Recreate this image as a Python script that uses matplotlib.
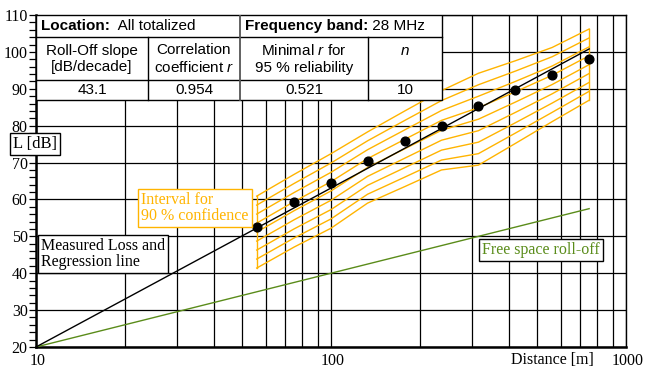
import matplotlib
matplotlib.use('Agg')
import matplotlib.pyplot as plt
import matplotlib.transforms as mtransforms
from matplotlib.patches import Rectangle
from matplotlib.ticker import LogLocator, MultipleLocator, NullFormatter

plt.rcParams['mathtext.fontset'] = 'custom'
plt.rcParams['mathtext.rm'] = 'Liberation Sans'
plt.rcParams['mathtext.it'] = 'Liberation Sans:italic'

# measured points (10 sites)
distance = [56, 75, 100, 133, 178, 237, 316, 422, 562, 750]
loss = [52.5, 59.4, 64.4, 70.5, 75.8, 80.0, 85.4, 89.8, 93.7, 98.0]

# 90 % confidence interval limits at the same distances
ci_low = [41.4, 47.1, 52.2, 59.0, 63.5, 68.0, 69.3, 75.2, 81.1, 86.9]
ci_high = [60.9, 66.8, 72.4, 78.3, 84.0, 89.5, 94.2, 97.6, 101.2, 106.2]
n_hatch = 9

# regression line (43.1 dB/decade) and free space roll-off (20 dB/decade)
reg_dist = [10, 750]
reg_loss = [20, 100.8]
free_dist = [10, 750]
free_loss = [20, 57.5]

x_ticks = [10, 100, 1000]
x_labels = ['10', '100', '1000']
y_ticks = list(range(20, 111, 10))

orange = '#FFB400'
green = '#5A8C1A'
serif = 'Liberation Serif'
sans = 'Liberation Sans'
tsize = 11

W, H = 645, 369
fig = plt.figure(figsize=(W / 100, H / 100), dpi=100)
ax = fig.add_axes([36 / W, 22 / H, 590 / W, 332 / H])
ax.set_xscale('log')
ax.set_xlim(10, 1000)
ax.set_ylim(20, 110)

ax.xaxis.set_major_locator(LogLocator(base=10))
ax.xaxis.set_minor_locator(LogLocator(base=10, subs=range(2, 10)))
ax.xaxis.set_minor_formatter(NullFormatter())
ax.set_xticks(x_ticks, x_labels)
ax.set_yticks(y_ticks)
ax.yaxis.set_minor_locator(MultipleLocator(2))
ax.grid(axis='x', which='both', color='black', lw=0.9)
ax.grid(axis='y', which='major', color='black', lw=0.9)
ax.set_axisbelow(True)

ax.tick_params(axis='x', which='both', length=0, pad=4)
ax.tick_params(axis='y', which='both', direction='out', length=5, width=0.9, pad=1)
shift = mtransforms.ScaledTranslation(2 / 100, 0, fig.dpi_scale_trans)
for lab in ax.get_xticklabels():
    lab.set_transform(lab.get_transform() + shift)
for lab in ax.get_xticklabels() + ax.get_yticklabels():
    lab.set_fontfamily(serif)
    lab.set_fontsize(11.5)
for side in ['left', 'bottom']:
    ax.spines[side].set_linewidth(1.8)
for side in ['top', 'right']:
    ax.spines[side].set_linewidth(1.0)

# hatched confidence band
for k in range(n_hatch):
    f = k / (n_hatch - 1)
    yk = [lo + f * (hi - lo) for lo, hi in zip(ci_low, ci_high)]
    ax.plot(distance, yk, color=orange, lw=1, zorder=2)
ax.plot([distance[0]] * 2, [ci_low[0], ci_high[0]], color=orange, lw=1, zorder=2)
ax.plot([distance[-1]] * 2, [ci_low[-1], ci_high[-1]], color=orange, lw=1, zorder=2)

ax.plot(free_dist, free_loss, color=green, lw=1, zorder=3)
ax.plot(reg_dist, reg_loss, color='black', lw=1, zorder=3)
ax.plot(distance, loss, 'o', color='black', ms=6.3, zorder=4)


def fx(px):
    return (px - 36) / 590


def fy(py):
    return (347 - py) / 332


# labels in boxes
box = dict(boxstyle='square,pad=0.2', fc='white', ec='black', lw=1)
ax.text(fx(35), fy(144), 'L [dB]', transform=ax.transAxes, ha='center', va='center',
        fontfamily=serif, fontsize=12, bbox=box, zorder=6, clip_on=False)
ax.text(fx(141), fy(208), 'Interval for\n90 % confidence', transform=ax.transAxes,
        ha='left', va='center', fontfamily=serif, fontsize=11.5, color=orange,
        linespacing=1.05, bbox=dict(boxstyle='square,pad=0.2', fc='white', ec=orange, lw=1),
        zorder=6)
ax.text(fx(41), fy(254), 'Measured Loss and\nRegression line', transform=ax.transAxes,
        ha='left', va='center', fontfamily=serif, fontsize=11.5, linespacing=1.05,
        bbox=box, zorder=6)
ax.text(fx(482), fy(250), 'Free space roll-off', transform=ax.transAxes,
        ha='left', va='center', fontfamily=serif, fontsize=11.5, color=green,
        bbox=box, zorder=6)
ax.text(fx(552), fy(360), 'Distance [m]', transform=ax.transAxes, ha='center',
        va='center', fontfamily=serif, fontsize=11.5, clip_on=False)

# parameter table in the upper left corner
cols = [fx(36), fx(148), fx(240), fx(368), fx(442)]
rows = [fy(15), fy(37), fy(80), fy(100)]
ax.add_patch(Rectangle((cols[0], rows[-1]), cols[-1] - cols[0], rows[0] - rows[-1],
                       transform=ax.transAxes, fc='white', ec='black', lw=1, zorder=5))
for r in rows[1:3]:
    ax.plot([cols[0], cols[-1]], [r, r], transform=ax.transAxes, color='black', lw=1, zorder=5)
ax.plot([cols[2]] * 2, [rows[0], rows[-1]], transform=ax.transAxes, color='#555555', lw=1.3, zorder=5)
for c in [cols[1], cols[3]]:
    ax.plot([c, c], [rows[1], rows[-1]], transform=ax.transAxes, color='black', lw=1, zorder=5)

head = ['Roll-Off slope\n[dB/decade]', 'Correlation\ncoefficient $r$',
        'Minimal $r$ for\n95 % reliability', '$n$']
values = ['43.1', '0.954', '0.521', '10']
fig.canvas.draw()
renderer = fig.canvas.get_renderer()


def bold_regular(x, y, bold, regular):
    t = ax.text(x, y, bold, transform=ax.transAxes, ha='left', va='baseline',
                fontfamily=sans, fontsize=tsize, fontweight='bold', zorder=6)
    bb = t.get_window_extent(renderer)
    x1 = ax.transAxes.inverted().transform((bb.x1, bb.y0))[0]
    ax.text(x1, y, regular, transform=ax.transAxes, ha='left', va='baseline',
            fontfamily=sans, fontsize=tsize, zorder=6)


bold_regular(fx(41), fy(30), 'Location:', '  All totalized')
bold_regular(fx(245), fy(30), 'Frequency band:', ' 28 MHz')
for i in range(4):
    cx = (cols[i] + cols[i + 1]) / 2
    if i == 3:
        ax.text(cx, fy(51), head[i], transform=ax.transAxes, ha='center', va='center',
                fontfamily=sans, fontsize=tsize, zorder=6)
    else:
        ax.text(cx, fy(59), head[i], transform=ax.transAxes, ha='center', va='center',
                fontfamily=sans, fontsize=tsize, linespacing=1.25, zorder=6)
    ax.text(cx, fy(90), values[i], transform=ax.transAxes, ha='center', va='center',
            fontfamily=sans, fontsize=tsize, zorder=6)

fig.savefig('out.png', dpi=100)
